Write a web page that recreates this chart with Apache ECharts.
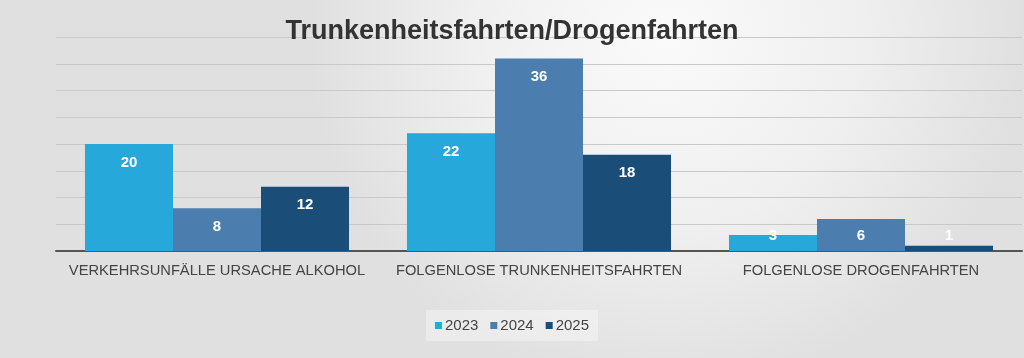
<!DOCTYPE html>
<html>
<head>
<meta charset="utf-8">
<script src="https://cdn.jsdelivr.net/npm/echarts@6/dist/echarts.min.js"></script>
<style>
html,body{margin:0;padding:0;width:1024px;height:358px;overflow:hidden;background:#fff;}
#chart{width:1024px;height:358px;}
</style>
</head>
<body>
<div id="chart"></div>
<script>
const categories = ['VERKEHRSUNFÄLLE URSACHE ALKOHOL', 'FOLGENLOSE TRUNKENHEITSFAHRTEN', 'FOLGENLOSE DROGENFAHRTEN'];
const seriesNames = ['2023', '2024', '2025'];
const values2023 = [20, 22, 3];
const values2024 = [8, 36, 6];
const values2025 = [12, 18, 1];
const colors = ['#26a9da', '#4b7eae', '#1b4d79'];

const chart = echarts.init(document.getElementById('chart'), null, {renderer: 'canvas'});

function makeData(arr) {
  return arr.map(v => {
    if (v < 7) {
      return {value: v, label: {position: 'insideBottom', distance: 8}};
    }
    return v;
  });
}

const allValues = [values2023, values2024, values2025];

const option = {
  backgroundColor: {
    type: 'radial', x: 0.65, y: 0.1, r: 1.0,
    colorStops: [
      {offset: 0, color: '#fafafa'},
      {offset: 0.55, color: '#efefef'},
      {offset: 1, color: '#e0e0e0'}
    ]
  },
  animation: false,
  title: {
    text: 'Trunkenheitsfahrten/Drogenfahrten',
    left: 'center',
    top: 13,
    textStyle: {
      fontFamily: 'Liberation Sans',
      fontWeight: 'bold',
      fontSize: 27,
      color: '#333333'
    }
  },
  legend: {
    data: seriesNames,
    bottom: 17,
    left: 'center',
    itemWidth: 7,
    itemHeight: 7,
    itemGap: 12,
    padding: [8, 9, 8, 9],
    backgroundColor: 'rgba(255,255,255,0.35)',
    icon: 'rect',
    textStyle: {fontFamily: 'Liberation Sans', fontSize: 15, color: '#444', padding: [0, 0, 0, -2]}
  },
  grid: {left: 56, right: 2, top: 37, bottom: 107},
  xAxis: {
    type: 'category',
    data: categories,
    axisTick: {show: false},
    axisLine: {lineStyle: {color: '#555', width: 2}},
    axisLabel: {interval: 0, fontFamily: 'Liberation Sans', fontSize: 14.7, color: '#444', margin: 12}
  },
  yAxis: {
    type: 'value',
    min: 0, max: 40, interval: 5,
    axisLabel: {show: false},
    axisLine: {show: false},
    axisTick: {show: false},
    splitLine: {lineStyle: {color: '#c9c9c9', width: 1}}
  },
  series: seriesNames.map((name, i) => ({
    name: name,
    type: 'bar',
    data: makeData(allValues[i]),
    barGap: '0%',
    barCategoryGap: '18%',
    itemStyle: {color: colors[i]},
    label: {
      show: true,
      position: 'insideTop',
      distance: 11,
      color: '#ffffff',
      fontFamily: 'Liberation Sans',
      fontWeight: 'bold',
      fontSize: 15
    }
  }))
};
chart.setOption(option);
</script>
</body>
</html>
